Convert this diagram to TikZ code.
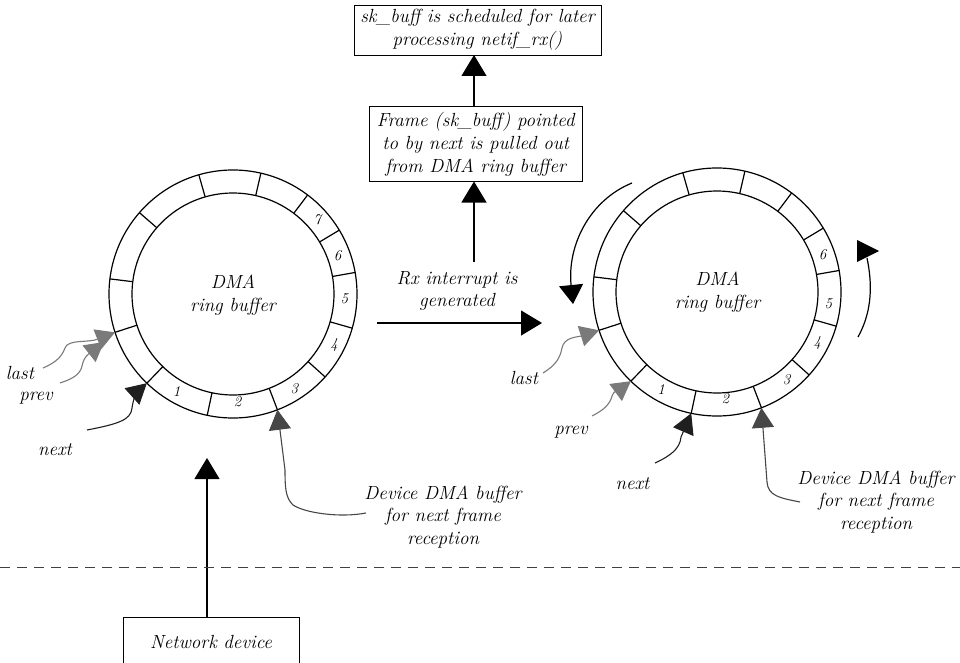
\documentclass[tikz,border=0pt]{standalone}
\usepackage{fontspec}
\usetikzlibrary{arrows.meta,calc}
\begin{document}
\begin{tikzpicture}[x=1pt,y=1pt,
  txt/.style={font=\fontsize{19}{22.5}\selectfont\itshape, align=center, inner sep=0pt},
  box/.style={draw, line width=0.9pt, font=\fontsize{19}{23}\selectfont\itshape, align=center, inner sep=0pt, outer sep=0pt},
  num/.style={font=\fontsize{15}{15}\selectfont\itshape, inner sep=0pt},
  ringc/.style={circle, draw, line width=1.2pt, inner sep=0pt, outer sep=0pt},
  ringtick/.style={line width=1.2pt},
  bigarrow/.style={line width=1.2pt, -{Triangle[length=21pt,width=25pt]}},
  ptrblack/.style={line width=1.1pt, draw=black!88, -{Triangle[length=20pt,width=22pt]}},
  ptrdark/.style={line width=1.1pt, draw=black!72, -{Triangle[length=20pt,width=22pt]}},
  ptrgray/.style={line width=1.1pt, draw=black!52, -{Triangle[length=19pt,width=21pt]}},
]
\useasboundingbox (0,0) rectangle (960,-663);

% ---------- left ring ----------
\node[ringc, minimum size=248pt] (ringL) at (233,-294) {};
\node[ringc, minimum size=202pt] (ringLin) at (233,-294) {};
\foreach \a in {106,77,53,31,10,-16,-42,-69,-102,-134,-162,173,139}
  \draw[ringtick] (ringLin.\a) -- (ringL.\a);
\node[txt] (dmaL) at (233,-295) {DMA\\ring buffer};
\node[num] (nL1) at (176.7,-391.7) {1};
\node[num] (nL2) at (237.7,-401.7) {2};
\node[num] (nL3) at (294.3,-388.3) {3};
\node[num] (nL4) at (334,-345) {4};
\node[num] (nL5) at (344.3,-298.3) {5};
\node[num] (nL6) at (337.7,-255.7) {6};
\node[num] (nL7) at (317.3,-220) {7};

% ---------- right ring ----------
\node[ringc, minimum size=248pt] (ringR) at (717,-292) {};
\node[ringc, minimum size=202pt] (ringRin) at (717,-292) {};
\foreach \a in {106,77,53,31,10,-16,-42,-69,-102,-134,-162,173,139}
  \draw[ringtick] (ringRin.\a) -- (ringR.\a);
\node[txt] (dmaR) at (717.5,-292) {DMA\\ring buffer};
\node[num] (nR1) at (661,-389.3) {1};
\node[num] (nR2) at (725.3,-398.3) {2};
\node[num] (nR3) at (786.7,-379.3) {3};
\node[num] (nR4) at (817.3,-342.7) {4};
\node[num] (nR5) at (828.3,-304) {5};
\node[num] (nR6) at (822.7,-255) {6};

% ---------- boxes ----------
\node[box, minimum width=247pt, minimum height=50pt] (sched) at (477.5,-30) {sk\_buff is scheduled for later\\processing netif\_rx()};
\node[box, minimum width=213pt, minimum height=75pt] (frame) at (475.7,-144) {Frame (sk\_buff) pointed\\to by next is pulled out\\from DMA ring buffer};
\node[box, minimum width=176pt, minimum height=50pt] (netdev) at (211,-642) {Network device};

% ---------- main arrows ----------
\coordinate (rxtop) at (474,-262);
\draw[bigarrow] (rxtop) -- (rxtop |- frame.south);
\draw[bigarrow] (frame.north -| rxtop) -- (rxtop |- sched.south);
\coordinate (rxs) at (377,-323);
\coordinate (rxe) at (542,-323);
\draw[bigarrow] (rxs) -- (rxe);
\node[txt] (rxlbl) at (457,-291) {Rx interrupt is\\generated};
\coordinate (nettip) at (207,-458);
\draw[bigarrow] (netdev.north -| nettip) -- (nettip);

% dashed boundary
\coordinate (dl) at (0,-567);
\coordinate (dr) at (960,-567);
\draw[dash pattern=on 10pt off 7pt, line width=0.9pt, black!75] (dl) -- (dr);

% ---------- left pointers ----------
\node[txt] (lastL) at (20,-373) {last};
\node[txt] (prevL) at (36,-398) {prev};
\node[txt] (nextL) at (55,-450) {next};
\coordinate (lastLs) at (43,-368);
\coordinate (prevLs) at (60,-383);
\coordinate (nextLs) at (87,-430);
\coordinate (prevLt) at (104,-342);
\draw[ptrgray] (lastLs) .. controls (57,-362) and (62,-356) .. (65,-348) .. controls (68,-339) and (88,-343) .. (ringL.-162);
\draw[ptrgray] (prevLs) .. controls (72,-379) and (80,-375) .. (82,-366) .. controls (84,-356) and (90,-353) .. (prevLt);
\draw[ptrblack] (nextLs) .. controls (118,-424) and (131,-420) .. (132,-408) .. controls (133,-400) and (137,-392) .. (ringL.-134);
\node[txt] (devL) at (443,-517) {Device DMA buffer\\for next frame\\reception};
\coordinate (devLs) at (366,-513);
\draw[ptrdark] (devLs) .. controls (340,-518) and (305,-513) .. (293,-505) .. controls (286,-498) and (285,-490) .. (285,-470) -- (ringL.-69);

% ---------- right pointers ----------
\node[txt] (lastR) at (524,-378) {last};
\node[txt] (prevR) at (571,-432) {prev};
\node[txt] (nextR) at (632.5,-484) {next};
\coordinate (lastRs) at (543,-373);
\coordinate (prevRs) at (592,-416);
\coordinate (nextRs) at (655,-463);
\draw[ptrgray] (lastRs) .. controls (556,-365) and (560,-358) .. (562,-348) .. controls (564,-337) and (578,-337) .. (ringR.-162);
\draw[ptrgray] (prevRs) .. controls (604,-410) and (610,-404) .. (612,-396) .. controls (614,-390) and (619,-390) .. (ringR.-134);
\draw[ptrblack] (nextRs) .. controls (670,-456) and (680,-449) .. (681,-437) -- (ringR.-102);
\node[txt] (devR) at (876,-502) {Device DMA buffer\\for next frame\\reception};
\coordinate (devRs) at (800,-502);
\draw[ptrdark] (devRs) .. controls (780,-498) and (768,-496) .. (767,-482) -- (ringR.-69);

% ---------- rotation arrows ----------
\coordinate (rotLs) at (632,-183);
\coordinate (rotLe) at (573,-304);
\draw[line width=1.2pt, -{Triangle[length=19pt,width=24pt]}] (rotLs) .. controls (590,-200) and (567,-245) .. (rotLe);
\coordinate (rotRs) at (858,-337);
\coordinate (rotRe) at (867,-258);
\draw[line width=1.2pt] (rotRs) .. controls (873,-310) and (872,-282) .. (rotRe);
\fill (857,-240) -- (879,-251) -- (857,-262) -- cycle;
\end{tikzpicture}
\end{document}
